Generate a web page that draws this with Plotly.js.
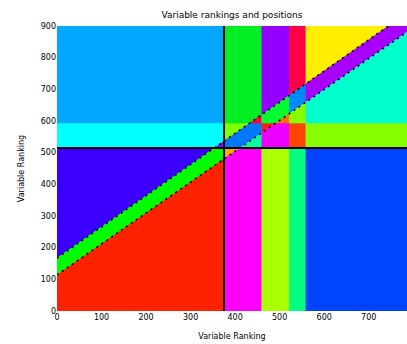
<!DOCTYPE html>
<html>
<head>
<meta charset="utf-8">
<script src="https://cdn.plot.ly/plotly-3.0.1.min.js"></script>
<style>html,body{margin:0;padding:0;background:#fff;}#chart{width:407px;height:344px;}</style>
</head>
<body>
<div id="chart"></div>
<script>
// ---- data ----
const xBreaks = [0, 375, 460, 522, 559, 786];   // column boundaries
const yBreaks = [0, 515, 594, 900];             // row boundaries
const diagX   = [0, 786];                       // diagonal boundary endpoints (x)
const upperY  = [167, 941];                     // upper diagonal boundary (y at diagX)
const lowerY  = [114, 881];                     // lower diagonal boundary (y at diagX)
const splitX  = 375;                            // black vertical split
const splitY  = 515;                            // black horizontal split
const xTicks  = [0, 100, 200, 300, 400, 500, 600, 700];
const yTicks  = [0, 100, 200, 300, 400, 500, 600, 700, 800, 900];
// region colours: per row (bottom, middle, top), per column, [above, between, below]
const colorsRow0 = [["#3c00ff","#00ff00","#ff2200"],["#ffaa00","#ffaa00","#ff00ff"],["#aaff00","#aaff00","#aaff00"],["#00ff80","#00ff80","#00ff80"],["#0044ff","#0044ff","#0044ff"]];
const colorsRow1 = [["#00ffff","#9000ff","#9000ff"],["#80ff00","#0077ff","#00ff99"],["#ee00ff","#ff1a1a","#ee00ff"],["#ff4400","#ff4400","#ff4400"],["#88ff00","#88ff00","#88ff00"]];
const colorsRow2 = [["#00a8ff","#00a8ff","#00a8ff"],["#00ee22","#ff0033","#ff0033"],["#9400ff","#00ff30","#ff7000"],["#ff0048","#0088ff","#88ff00"],["#ffee00","#a800ff","#00ffcc"]];
const rowColors = [colorsRow0, colorsRow1, colorsRow2];

// ---- geometry helpers ----
function lineAt(ys, x){ return ys[0] + (ys[1]-ys[0])*(x-diagX[0])/(diagX[1]-diagX[0]); }
function clip(poly, f){ // keep f(p) >= 0
  const out = [];
  for (let i=0;i<poly.length;i++){
    const a = poly[i], b = poly[(i+1)%poly.length];
    const fa = f(a), fb = f(b);
    if (fa >= 0) out.push(a);
    if ((fa >= 0) !== (fb >= 0)){
      const t = fa/(fa-fb);
      out.push([a[0]+t*(b[0]-a[0]), a[1]+t*(b[1]-a[1])]);
    }
  }
  return out;
}
const aboveU = p => p[1] - lineAt(upperY, p[0]);
const belowU = p => lineAt(upperY, p[0]) - p[1];
const aboveL = p => p[1] - lineAt(lowerY, p[0]);
const belowL = p => lineAt(lowerY, p[0]) - p[1];

const traces = [];
for (let r=0;r<yBreaks.length-1;r++){
  for (let c=0;c<xBreaks.length-1;c++){
    const x0=xBreaks[c], x1=xBreaks[c+1], y0=yBreaks[r], y1=yBreaks[r+1];
    const rect = [[x0,y0],[x1,y0],[x1,y1],[x0,y1]];
    const parts = [clip(rect, aboveU), clip(clip(rect, belowU), aboveL), clip(rect, belowL)];
    parts.forEach((poly, k) => {
      if (poly.length < 3) return;
      const col = rowColors[r][c][k];
      traces.push({
        type:'scatter', mode:'lines', fill:'toself',
        x: poly.map(p=>p[0]).concat([poly[0][0]]),
        y: poly.map(p=>p[1]).concat([poly[0][1]]),
        fillcolor: col, line:{color:col, width:0.6},
        hoverinfo:'skip', showlegend:false
      });
    });
  }
}
// black split lines
traces.push({type:'scatter', mode:'lines', x:[splitX, splitX], y:[yBreaks[0], yBreaks[yBreaks.length-1]],
  line:{color:'#000', width:2}, hoverinfo:'skip', showlegend:false});
traces.push({type:'scatter', mode:'lines', x:[xBreaks[0], xBreaks[xBreaks.length-1]], y:[splitY, splitY],
  line:{color:'#000', width:2}, hoverinfo:'skip', showlegend:false});
// dotted diagonal boundaries
[upperY, lowerY].forEach(ys => traces.push({type:'scatter', mode:'lines', x:diagX, y:ys,
  line:{color:'#000', width:1.6, dash:'2px,4px'}, hoverinfo:'skip', showlegend:false}));

const font = {family:'DejaVu Sans, sans-serif', color:'#000'};
const layout = {
  width:407, height:344,
  margin:{l:57, r:0, t:26, b:33},
  paper_bgcolor:'#fff', plot_bgcolor:'#fff',
  font: Object.assign({size:8}, font),
  title:{text:'Variable rankings and positions', font:Object.assign({size:9}, font), x:0.57, xanchor:'center', y:0.958, yanchor:'middle'},
  xaxis:{range:[xBreaks[0], xBreaks[xBreaks.length-1]], tickvals:xTicks, showgrid:false, zeroline:false, showline:false, ticks:'',
    tickfont:Object.assign({size:8}, font),
    title:{text:'Variable Ranking', font:Object.assign({size:8}, font), standoff:12}},
  yaxis:{range:[yBreaks[0], yBreaks[yBreaks.length-1]], tickvals:yTicks, showgrid:false, zeroline:false, showline:false, ticks:'',
    tickfont:Object.assign({size:8}, font),
    title:{text:'Variable Ranking', font:Object.assign({size:8}, font), standoff:14}},
  showlegend:false
};
Plotly.newPlot('chart', traces, layout, {staticPlot:true, displayModeBar:false});
</script>
</body>
</html>
